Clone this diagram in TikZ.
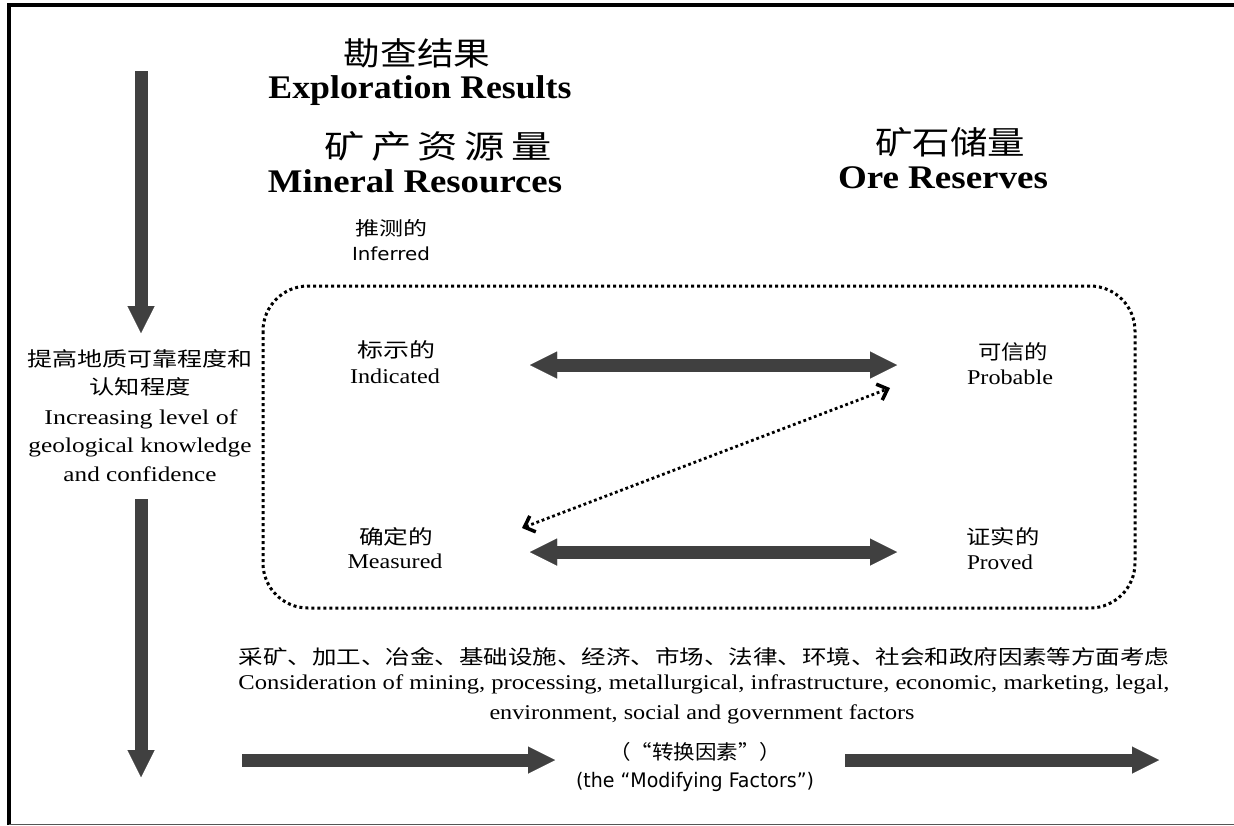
\documentclass[tikz,border=0pt]{standalone}
\usepackage{fontspec}
\setmainfont{Liberation Serif}
\newfontfamily\cjk{Noto Sans CJK SC}
\newfontfamily\dvs{DejaVu Sans}
\usetikzlibrary{arrows.meta}
\definecolor{arrowgray}{HTML}{404040}
\definecolor{framegray}{HTML}{555555}
\newcommand\fw[2]{\resizebox{#1}{\height}{#2}}
\newcommand\fsz[1]{\fontsize{#1}{#1}\selectfont}
\begin{document}
\begin{tikzpicture}[x=1pt,y=-1pt,
  lbl/.style={inner sep=0pt, outer sep=0pt},
  zh/.style={lbl, anchor=center, font={\cjk\fsz{20}}},
  zhtitle/.style={lbl, anchor=center, font={\cjk\fsz{32}}},
  en/.style={lbl, anchor=base, font={\fsz{21}}},
  entitle/.style={lbl, anchor=base, font={\bfseries\fsz{33}}},
  ensans/.style={lbl, anchor=base, font={\dvs\fsz{20}}},
  bigarrow/.style={draw=arrowgray, line width=13pt,
     -{Triangle[length=27pt,width=27pt,line width=0.01pt]}},
  bigdouble/.style={draw=arrowgray, line width=13pt,
     {Triangle[length=27pt,width=27pt,line width=0.01pt]}-{Triangle[length=27pt,width=27pt,line width=0.01pt]}},
  dotbox/.style={draw=black, line width=3pt, dash pattern=on 3pt off 3pt, rounded corners=45pt},
  dotarrow/.style={draw=black, line width=2.8pt, dash pattern=on 2.8pt off 2.8pt,
     {Straight Barb[length=9pt,width=17pt,line width=3.5pt]}-{Straight Barb[length=9pt,width=17pt,line width=3.5pt]}},
]
\useasboundingbox (0,0) rectangle (1234,825);
\fill[white] (0,0) rectangle (1234,825);
% frame
\draw[line width=4pt, miter limit=10] (9,825) -- (9,5) -- (1234,5);
\draw[framegray, line width=1pt] (9,824.5) -- (1234,824.5);

% titles
\node[zhtitle] (t1zh) at (417,53) {\fw{147pt}{勘查结果}};
\node[entitle] (t1en) at (420,98) {\fw{303pt}{Exploration Results}};
\node[zhtitle] (t2zh) at (438,146) {\fw{227pt}{矿\kern5pt 产\kern5pt 资\kern5pt 源\kern5pt 量}};
\node[entitle] (t2en) at (415,192) {\fw{294pt}{Mineral Resources}};
\node[zhtitle] (t3zh) at (950,142) {\fw{150pt}{矿石储量}};
\node[entitle] (t3en) at (943,188) {\fw{210pt}{Ore Reserves}};

% inferred
\node[zh, font={\cjk\fsz{19}}] (infzh) at (391,228) {\fw{72pt}{推测的}};
\node[ensans, font={\dvs\fsz{18}}] (infen) at (391,260) {\fw{78pt}{Inferred}};

% categories
\node[zh] (indzh) at (396,350) {\fw{78pt}{标示的}};
\node[en] (inden) at (395,383) {\fw{90pt}{Indicated}};
\node[zh] (meazh) at (396,537) {\fw{74pt}{确定的}};
\node[en] (meaen) at (395,568) {\fw{95pt}{Measured}};
\node[zh] (prbzh) at (1013,352) {\fw{70pt}{可信的}};
\node[en] (prben) at (1010,384) {\fw{86pt}{Probable}};
\node[zh] (prvzh) at (1003,537) {\fw{73pt}{证实的}};
\node[en] (prven) at (1000,569) {\fw{66pt}{Proved}};

% left column text
\node[zh] (l1) at (140,359) {\fw{225pt}{提高地质可靠程度和}};
\node[zh] (l2) at (140,387) {\fw{101pt}{认知程度}};
\node[en] (l3) at (141,424) {\fw{193pt}{Increasing level of}};
\node[en] (l4) at (140,452) {\fw{223pt}{geological knowledge}};
\node[en] (l5) at (140,481) {\fw{153pt}{and confidence}};

% bottom text
\node[zh] (b1) at (704,657) {\fw{931pt}{采矿、加工、冶金、基础设施、经济、市场、法律、环境、社会和政府因素等方面考虑}};
\node[en] (b2) at (704,689) {\fw{931pt}{Consideration of mining, processing, metallurgical, infrastructure, economic, marketing, legal,}};
\node[en] (b3) at (702,719) {\fw{425pt}{environment, social and government factors}};
\node[zh] (b4) at (695,752) {\fw{172pt}{（“转换因素”）}};
\node[ensans] (b5) at (695,787) {\fw{238pt}{(the “Modifying Factors”)}};

% dotted box
\draw[dotbox] (263,286) rectangle (1135,608);

% arrow end points
\coordinate (vA1) at (141,71);
\coordinate (vA2) at (141,333);
\coordinate (vB1) at (141,499);
\coordinate (vB2) at (141,777);
\coordinate (h1a) at (530,365);
\coordinate (h1b) at (897,365);
\coordinate (h2a) at (530,552);
\coordinate (h2b) at (897,552);
\coordinate (d1) at (522,528);
\coordinate (d2) at (890,388);
\coordinate (m1) at (242,760);
\coordinate (m2) at (555,760);
\coordinate (m3) at (845,760);
\coordinate (m4) at (1159,760);

\draw[bigarrow] (vA1) -- (vA2);
\draw[bigarrow] (vB1) -- (vB2);
\draw[bigdouble] (h1a) -- (h1b);
\draw[bigdouble] (h2a) -- (h2b);
\draw[dotarrow] (d1) -- (d2);
\draw[bigarrow] (m1) -- (m2);
\draw[bigarrow] (m3) -- (m4);
\end{tikzpicture}
\end{document}
